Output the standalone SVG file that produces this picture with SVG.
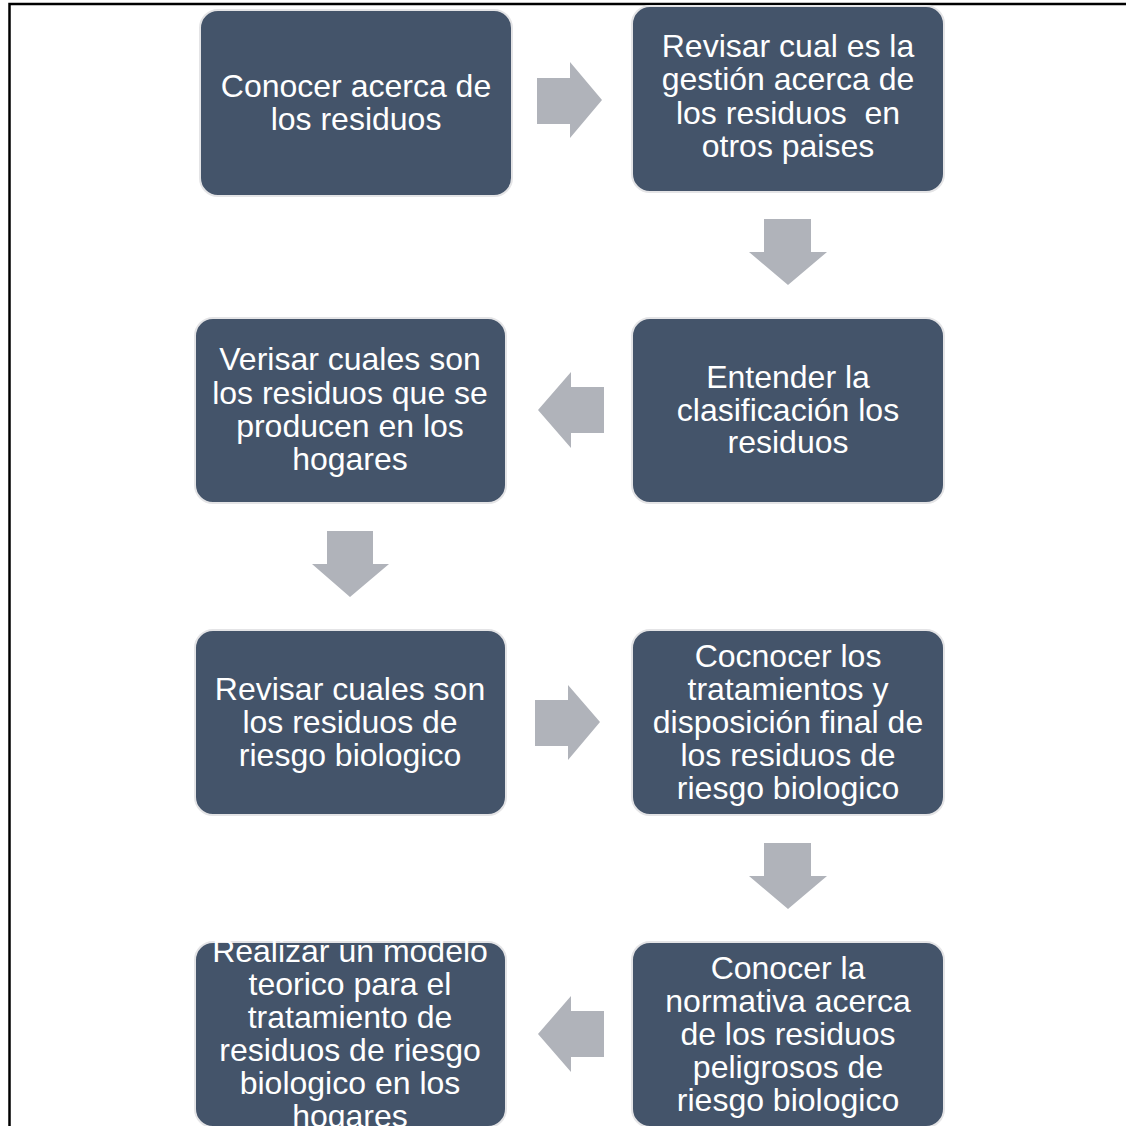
<svg xmlns="http://www.w3.org/2000/svg" width="1126" height="1126" viewBox="0 0 1126 1126">
  <style>
    .box { fill: #44546a; stroke: #e4e4e6; stroke-width: 2; }
    .lbl { fill: #ffffff; font-family: "Liberation Sans", Arial, sans-serif; font-size: 32px; text-anchor: middle; }
    .arr { fill: #b0b3ba; }
    .frame { fill: none; stroke: #000000; stroke-width: 2.5; }
  </style>
  <rect width="1126" height="1126" fill="#ffffff"/>
  <!-- outer frame: top and left edges -->
  <path class="frame" d="M9.5,1126 V4 H1126"/>

  <g id="connectors">
    <!-- row 1: right -->
    <polygon class="arr" points="537,78 570,78 570,62 602,100 570,138 570,124 537,124"/>
    <!-- right column: down -->
    <polygon class="arr" points="764,219 811,219 811,252 827,252 788,285 749,252 764,252"/>
    <!-- row 2: left -->
    <polygon class="arr" points="604,387 571,387 571,372 538,410 571,448 571,433 604,433"/>
    <!-- left column: down -->
    <polygon class="arr" points="327,531 373,531 373,564 389,564 350,597 312,564 327,564"/>
    <!-- row 3: right -->
    <polygon class="arr" points="535,700 568,700 568,685 600,722 568,760 568,746 535,746"/>
    <!-- right column: down -->
    <polygon class="arr" points="764,843 811,843 811,876 827,876 788,909 749,876 764,876"/>
    <!-- row 4: left -->
    <polygon class="arr" points="604,1011 571,1011 571,996 538,1034 571,1072 571,1057 604,1057"/>
  </g>

  <g id="n1">
    <rect class="box" x="200" y="10" width="312" height="186" rx="18"/>
    <text class="lbl" x="356" y="97">Conocer acerca de</text>
    <text class="lbl" x="356" y="130">los residuos</text>
  </g>
  <g id="n2">
    <rect class="box" x="632" y="6" width="312" height="186" rx="18"/>
    <text class="lbl" x="788" y="57">Revisar cual es la</text>
    <text class="lbl" x="788" y="90">gestión acerca de</text>
    <text class="lbl" x="788" y="124" xml:space="preserve">los residuos  en</text>
    <text class="lbl" x="788" y="157">otros paises</text>
  </g>
  <g id="n3">
    <rect class="box" x="632" y="318" width="312" height="185" rx="18"/>
    <text class="lbl" x="788" y="388">Entender la</text>
    <text class="lbl" x="788" y="421">clasificación los</text>
    <text class="lbl" x="788" y="453">residuos</text>
  </g>
  <g id="n4">
    <rect class="box" x="195" y="318" width="311" height="185" rx="18"/>
    <text class="lbl" x="350" y="370">Verisar cuales son</text>
    <text class="lbl" x="350" y="404">los residuos que se</text>
    <text class="lbl" x="350" y="437">producen en los</text>
    <text class="lbl" x="350" y="470">hogares</text>
  </g>
  <g id="n5">
    <rect class="box" x="195" y="630" width="311" height="185" rx="18"/>
    <text class="lbl" x="350" y="700">Revisar cuales son</text>
    <text class="lbl" x="350" y="733">los residuos de</text>
    <text class="lbl" x="350" y="766">riesgo biologico</text>
  </g>
  <g id="n6">
    <rect class="box" x="632" y="630" width="312" height="185" rx="18"/>
    <text class="lbl" x="788" y="667">Cocnocer los</text>
    <text class="lbl" x="788" y="700">tratamientos y</text>
    <text class="lbl" x="788" y="733">disposición final de</text>
    <text class="lbl" x="788" y="766">los residuos de</text>
    <text class="lbl" x="788" y="799">riesgo biologico</text>
  </g>
  <g id="n7">
    <rect class="box" x="632" y="942" width="312" height="185" rx="18"/>
    <text class="lbl" x="788" y="979">Conocer la</text>
    <text class="lbl" x="788" y="1012">normativa acerca</text>
    <text class="lbl" x="788" y="1045">de los residuos</text>
    <text class="lbl" x="788" y="1078">peligrosos de</text>
    <text class="lbl" x="788" y="1111">riesgo biologico</text>
  </g>
  <g id="n8">
    <rect class="box" x="195" y="942" width="311" height="185" rx="18"/>
    <text class="lbl" x="350" y="962">Realizar un modelo</text>
    <text class="lbl" x="350" y="995">teorico para el</text>
    <text class="lbl" x="350" y="1028">tratamiento de</text>
    <text class="lbl" x="350" y="1061">residuos de riesgo</text>
    <text class="lbl" x="350" y="1094">biologico en los</text>
    <text class="lbl" x="350" y="1127">hogares</text>
  </g>
</svg>
